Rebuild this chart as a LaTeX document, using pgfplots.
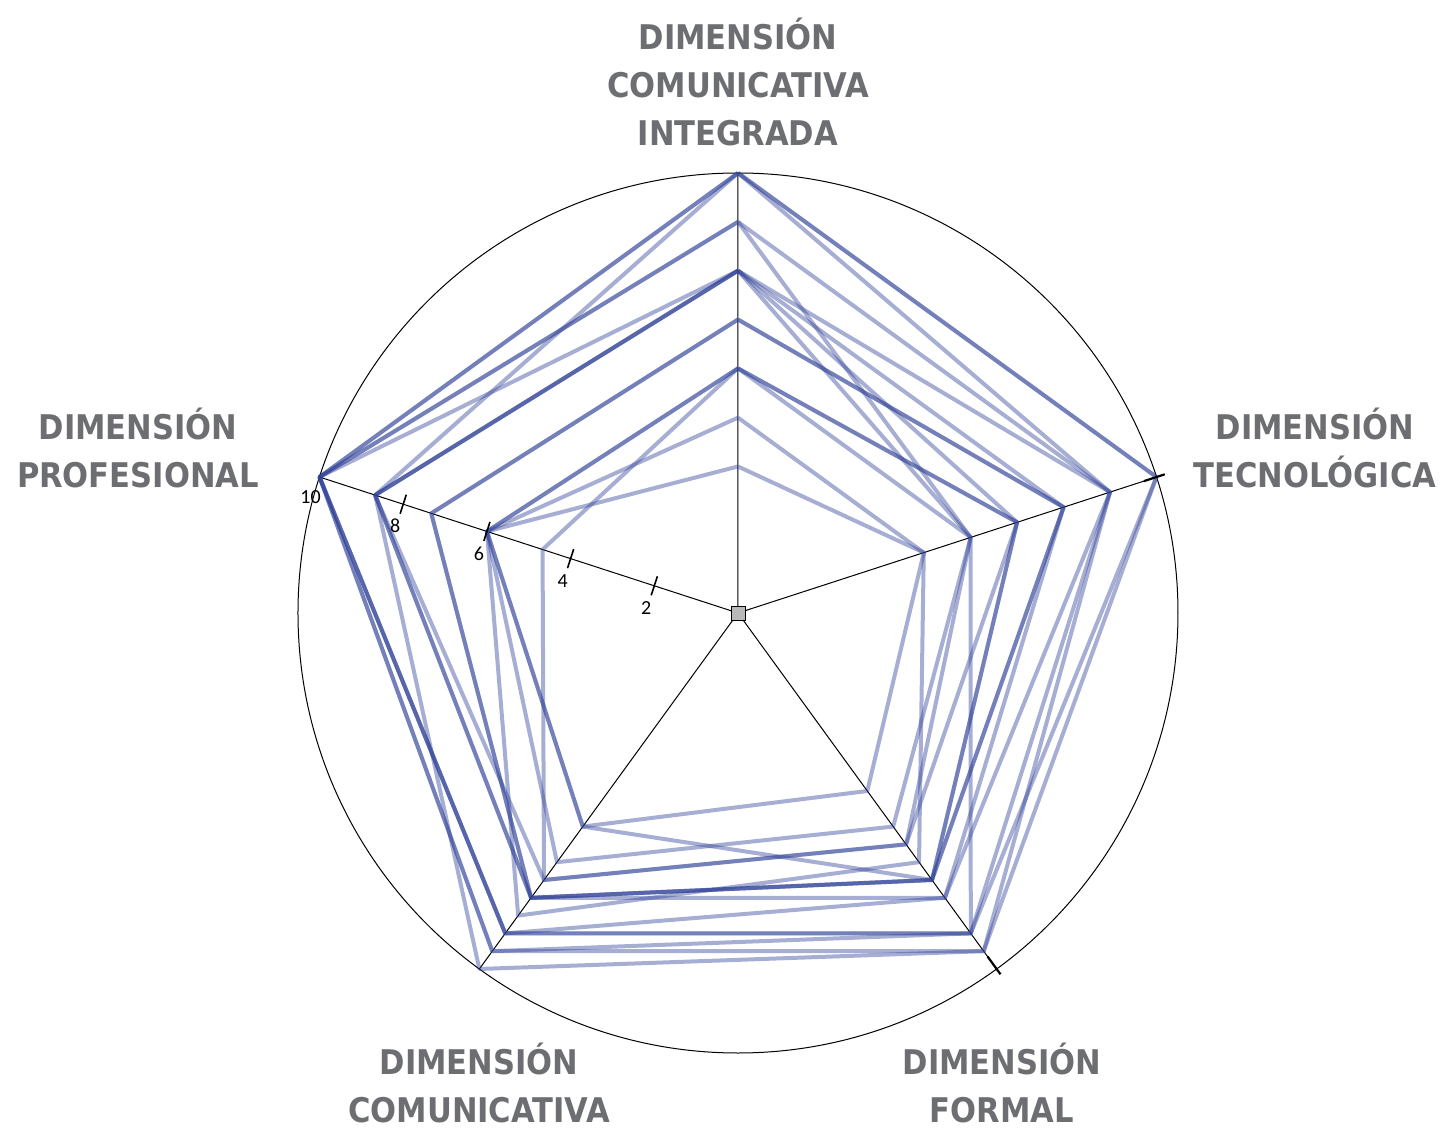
\documentclass[border=0pt]{standalone}
\usepackage{pgfplots}
\pgfplotsset{compat=1.18}
\usepgfplotslibrary{polar}
\usetikzlibrary{calc}
\usepackage{fontspec}
\setmainfont{Carlito}
\newfontfamily\labfont{DejaVu Sans Condensed Bold}
\definecolor{lbl}{HTML}{6D6E71}
\definecolor{ser}{HTML}{2E3F96}
\tikzset{pl/.style={draw=ser, draw opacity=0.42, line width=2pt, line join=round, mark=none, solid}}
\begin{document}
\begin{tikzpicture}
\useasboundingbox (-369pt,-257.5pt) rectangle (356pt,306.5pt);
\begin{polaraxis}[
  at={(0,0)}, anchor=center,
  width=440pt, height=440pt, scale only axis,
  ymin=0, ymax=10,
  xtick={18,90,162,234,306}, xticklabels={},
  ytick=\empty,
  xmajorgrids,
  major grid style={black, line width=0.5pt},
  x axis line style={black, line width=0.5pt},
  y axis line style={draw=none},
  tick style={draw=none},
  clip=false,
]
% (angle, value): T=90 (integrada), R=18 (tecnologica), F=306 (formal), C=234 (comunicativa), P=162 (profesional)
\addplot[pl] coordinates {(90,10) (18,10) (306,9.5) (234,9.5) (162,10) (90,10)};
\addplot[pl] coordinates {(90,10) (18,10) (306,9) (234,9) (162,10) (90,10)};
\addplot[pl] coordinates {(90,10) (18,8.89) (306,9.5) (234,10) (162,8.67) (90,10)};
\addplot[pl] coordinates {(90,8.89) (18,8.89) (306,9) (234,9) (162,10) (90,8.89)};
\addplot[pl] coordinates {(90,8.89) (18,5.56) (306,9) (234,9.5) (162,10) (90,8.89)};
\addplot[pl] coordinates {(90,7.78) (18,8.89) (306,8) (234,9) (162,10) (90,7.78)};
\addplot[pl] coordinates {(90,7.78) (18,7.78) (306,7.5) (234,8) (162,8.67) (90,7.78)};
\addplot[pl] coordinates {(90,6.67) (18,7.78) (306,7.5) (234,8) (162,7.33) (90,6.67)};
\addplot[pl] coordinates {(90,6.67) (18,7.78) (306,8) (234,8) (162,7.33) (90,6.67)};
\addplot[pl] coordinates {(90,7.78) (18,6.67) (306,7.5) (234,8) (162,8.67) (90,7.78)};
\addplot[pl] coordinates {(90,7.78) (18,5.56) (306,6.5) (234,7.5) (162,8.67) (90,7.78)};
\addplot[pl] coordinates {(90,5.56) (18,6.67) (306,7.5) (234,6) (162,6) (90,5.56)};
\addplot[pl] coordinates {(90,5.56) (18,5.56) (306,6) (234,7) (162,6) (90,5.56)};
\addplot[pl] coordinates {(90,4.44) (18,4.44) (306,7) (234,8.5) (162,6) (90,4.44)};
\addplot[pl] coordinates {(90,3.33) (18,4.44) (306,5) (234,6) (162,6) (90,3.33)};
\addplot[pl] coordinates {(90,5.56) (18,6.67) (306,6.5) (234,7.5) (162,4.67) (90,5.56)};
% centre marker
\addplot[draw=black, line width=0.4pt, mark=square*, mark size=3.5pt, mark options={fill=gray!55, draw=black, line width=0.4pt}] coordinates {(0,0)};
% short heavier marks where two spokes meet the circle
\draw[black, line width=1.1pt] (axis cs:18,9.7) -- (axis cs:18,10.2);
\draw[black, line width=1.1pt] (axis cs:306,9.65) -- (axis cs:306,10.15);
% radial ticks on the professional axis
\foreach \r in {2,4,6,8} {
  \edef\tmp{\noexpand\draw[black, line width=0.8pt] ($(axis cs:162,\r)+(72:5pt)$) -- ($(axis cs:162,\r)+(252:5pt)$);}
  \tmp
  \edef\tmp{\noexpand\node[font=\noexpand\fontsize{10}{12}\noexpand\selectfont, inner sep=0pt] at ($(axis cs:162,\r)+(-4pt,-11pt)$) {\r};}
  \tmp
}
\node[font=\fontsize{10}{12}\selectfont, inner sep=0pt] at ($(axis cs:162,10)+(-4.5pt,-10pt)$) {10};
\end{polaraxis}
\begin{scope}[every node/.style={font=\labfont\fontsize{17}{24}\selectfont, text=lbl, align=center, inner sep=0pt}]
\node at (0pt,265.5pt) {DIMENSIÓN\\COMUNICATIVA\\INTEGRADA};
\node at (288.5pt,82.5pt) {DIMENSIÓN\\TECNOLÓGICA};
\node at (-300pt,82.5pt) {DIMENSIÓN\\PROFESIONAL};
\node at (132pt,-235pt) {DIMENSIÓN\\FORMAL};
\node at (-129.5pt,-235pt) {DIMENSIÓN\\COMUNICATIVA};
\end{scope}
\end{tikzpicture}
\end{document}
